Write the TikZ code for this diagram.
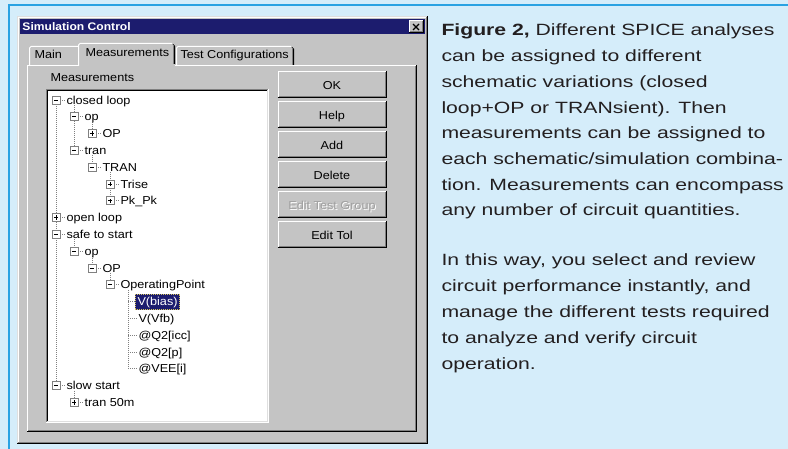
\documentclass[tikz,border=0pt]{standalone}
\usepackage{fontspec}
\setmainfont{Liberation Sans}
\newfontfamily\capfont[FakeStretch=1.3]{Liberation Sans}
\newfontfamily\dlgfont[FakeStretch=1.1]{Liberation Sans}
\usetikzlibrary{calc}
\definecolor{bgblue}{HTML}{D5EDFA}
\definecolor{lineblue}{HTML}{2AA2E2}
\definecolor{dlggray}{HTML}{C4C4C4}
\definecolor{navy}{HTML}{1C1C6E}
\definecolor{dkgray}{HTML}{808080}
\definecolor{ltgray}{HTML}{DFDFDF}
\definecolor{captxt}{HTML}{231F20}
\definecolor{disgray}{HTML}{A0A0A0}
\definecolor{focusy}{HTML}{D8C860}
\newcommand\raisedbdr[1]{%
 \draw[white,line width=1pt] ([xshift=.5pt,yshift=1pt]#1.south west) -- ([xshift=.5pt,yshift=-.5pt]#1.north west) -- ([xshift=-1pt,yshift=-.5pt]#1.north east);
 \draw[black,line width=1pt] ([yshift=.5pt]#1.south west) -- ([xshift=-.5pt,yshift=.5pt]#1.south east) -- ([xshift=-.5pt]#1.north east);
 \draw[dkgray,line width=1pt] ([xshift=1pt,yshift=1.5pt]#1.south west) -- ([xshift=-1.5pt,yshift=1.5pt]#1.south east) -- ([xshift=-1.5pt,yshift=-1pt]#1.north east);
}
\begin{document}
\begin{tikzpicture}[x=1pt,y=-1pt,line width=1pt,
 dlg/.style={font=\dlgfont\fontsize{11.5}{13}\selectfont},
 tt/.style={dlg, anchor=base west, inner sep=0pt, text=black},
 tbox/.style={draw=dkgray, fill=white, line width=0.8pt, minimum size=8pt, inner sep=0pt},
 dotline/.style={draw=dkgray, line width=0.8pt, dash pattern=on 1pt off 1pt},
 btn/.style={dlg, fill=dlggray, minimum width=108pt, minimum height=26pt, inner sep=0pt, text height=8.2pt, text depth=0pt},
 captext/.style={anchor=base west, inner sep=0pt, text=captxt, font=\capfont\fontsize{16.3}{16.3}\selectfont},
]
\useasboundingbox (0,0) rectangle (788,449);
\fill[bgblue] (0,0) rectangle (788,449);
% blue frame
\draw[lineblue,line width=2pt] (788,5.2) -- (8.5,5.2) -- (8.5,449);

% dialog
\fill[dlggray] (17,16) rectangle (428,444);
\draw[ltgray] (17.5,443) -- (17.5,16.5) -- (427,16.5);
\draw[white] (18.5,442) -- (18.5,17.5) -- (426,17.5);
\draw[black] (17,443.5) -- (427.5,443.5) -- (427.5,16);
\draw[dkgray] (18,442.5) -- (426.5,442.5) -- (426.5,17);

% title bar
\fill[navy] (20,19) rectangle (425,34);
\node[anchor=base west, inner sep=0pt, text=white, font=\dlgfont\bfseries\fontsize{11}{13}\selectfont] (title) at (22,30.8) {Simulation Control};
\node[fill=dlggray, minimum width=14pt, minimum height=12pt, inner sep=0pt] (closebtn) at (416,27) {};
\raisedbdr{closebtn}
\draw[black,line width=1.3pt] ([xshift=-3pt,yshift=3pt]closebtn.center) -- ([xshift=3pt,yshift=-3pt]closebtn.center);
\draw[black,line width=1.3pt] ([xshift=-3pt,yshift=-3pt]closebtn.center) -- ([xshift=3pt,yshift=3pt]closebtn.center);

% tab panel
\draw[white] (27.5,431) -- (27.5,65.5) -- (79,65.5);
\draw[white] (174,65.5) -- (416,65.5);
\draw[black] (27,431.5) -- (416.5,431.5) -- (416.5,65);
\draw[dkgray] (28,430.5) -- (415.5,430.5) -- (415.5,66);

% tabs
\draw[white] (29.5,65) -- (29.5,48) -- (31,46.5) -- (78,46.5);
\draw[white] (176.5,65) -- (176.5,48) -- (178,46.5) -- (291,46.5);
\draw[black] (292,47.5) -- (293.5,49) -- (293.5,65);
\draw[dkgray] (292.5,48.5) -- (292.5,65);
\fill[dlggray] (78,43) rectangle (175,66.5);
\draw[white] (78.5,66) -- (78.5,45) -- (80,43.5) -- (172,43.5);
\draw[black] (173,44.5) -- (174.5,46) -- (174.5,64);
\draw[dkgray] (173.5,45.5) -- (173.5,64);
\node[tt] (tabmain) at (34,59) {Main};
\node[tt] (tabmeas) at (85,57) {Measurements};
\node[tt] (tabtest) at (180,59) {Test Configurations};

% group label
\node[tt] (grplbl) at (50,82) {Measurements};

% tree box
\fill[white] (46,89) rectangle (269,423);
\draw[dkgray] (46.5,422) -- (46.5,89.5) -- (268,89.5);
\draw[black] (47.5,421) -- (47.5,90.5) -- (267,90.5);
\draw[white] (46,422.5) -- (268.5,422.5) -- (268.5,89);
\draw[ltgray] (47,421.5) -- (267.5,421.5) -- (267.5,90);

% tree vertical dotted lines
\draw[dotline] (56,100) -- (56,385.6);
\draw[dotline] (74,105) -- (74,150.4);
\draw[dotline] (92,121.8) -- (92,133.6);
\draw[dotline] (92,155.4) -- (92,167.2);
\draw[dotline] (110,172.2) -- (110,200.8);
\draw[dotline] (74,239.4) -- (74,251.2);
\draw[dotline] (92,256.2) -- (92,268);
\draw[dotline] (110,273) -- (110,284.8);
\draw[dotline] (128,289.8) -- (128,368.8);
\draw[dotline] (74,390.6) -- (74,402.4);

% selection
\fill[navy] (135,294) rectangle (180,310);
\draw[focusy,line width=0.8pt,dash pattern=on 1pt off 1pt] (135.5,294.5) rectangle (179.5,309.5);

% tree texts
\foreach \r/\l/\t in {0/0/closed loop,1/1/op,2/2/OP,3/1/tran,4/2/TRAN,5/3/Trise,6/3/Pk\_Pk,7/0/open loop,8/0/safe to start,9/1/op,10/2/OP,11/3/OperatingPoint,13/4/V(Vfb),14/4/@Q2[icc],15/4/@Q2[p],16/4/@VEE[i],17/0/slow start,18/1/tran 50m}{
  \pgfmathsetmacro\yy{100+16.8*\r}
  \pgfmathsetmacro\xt{66+18*\l}
  \node[tt] (t\r) at (\xt,\yy+4.1) {\t};
  \draw[dotline] (\xt-10,\yy) -- (\xt-1.5,\yy);
}
\node[tt,text=white] (t12) at (137,305.7) {V(bias)};
\draw[dotline] (128,301.6) -- (134.5,301.6);

% expand boxes
\foreach \r/\l in {0/0,1/1,3/1,4/2,8/0,9/1,10/2,11/3,17/0,2/2,5/3,6/3,7/0,18/1}{
  \pgfmathsetmacro\yy{100+16.8*\r}
  \pgfmathsetmacro\xb{56+18*\l}
  \node[tbox] (bx\r) at (\xb,\yy) {};
  \draw[black,line width=0.9pt] ([xshift=-2.2pt]bx\r.center) -- ([xshift=2.2pt]bx\r.center);
}
\foreach \r in {2,5,6,7,18}{
  \draw[black,line width=0.9pt] ([yshift=-2.2pt]bx\r.center) -- ([yshift=2.2pt]bx\r.center);
}

% buttons
\node[btn] (bok) at (332,85) {OK};
\node[btn] (bhelp) at (332,115) {Help};
\node[btn] (badd) at (332,145) {Add};
\node[btn] (bdel) at (332,175) {Delete};
\node[btn] (bedit) at (332,205) {};
\node[btn] (btol) at (332,235) {Edit Tol};
\foreach \b in {bok,bhelp,badd,bdel,bedit,btol}{\raisedbdr{\b}}
\node[dlg, inner sep=0pt, text=white, text height=8.2pt, text depth=0pt] (beditsh) at (333,206) {Edit Test Group};
\node[dlg, inner sep=0pt, text=disgray, text height=8.2pt, text depth=0pt] (beditt) at (332,205) {Edit Test Group};

% caption
\node[captext] (c1) at (441,36) {\textbf{Figure 2,} Different SPICE analyses};
\node[captext] (c2) at (441,61.7) {can be assigned to different};
\node[captext] (c3) at (441,87.4) {schematic variations (closed};
\node[captext] (c4) at (441,113.1) {loop+OP or TRANsient). Then};
\node[captext] (c5) at (441,138.8) {measurements can be assigned to};
\node[captext] (c6) at (441,164.5) {each schematic/simulation combina-};
\node[captext] (c7) at (441,190.2) {tion. Measurements can encompass};
\node[captext] (c8) at (441,215.9) {any number of circuit quantities.};
\node[captext] (d1) at (441,266) {In this way, you select and review};
\node[captext] (d2) at (441,291.8) {circuit performance instantly, and};
\node[captext] (d3) at (441,317.6) {manage the different tests required};
\node[captext] (d4) at (441,343.4) {to analyze and verify circuit};
\node[captext] (d5) at (441,369.2) {operation.};
\end{tikzpicture}
\end{document}
